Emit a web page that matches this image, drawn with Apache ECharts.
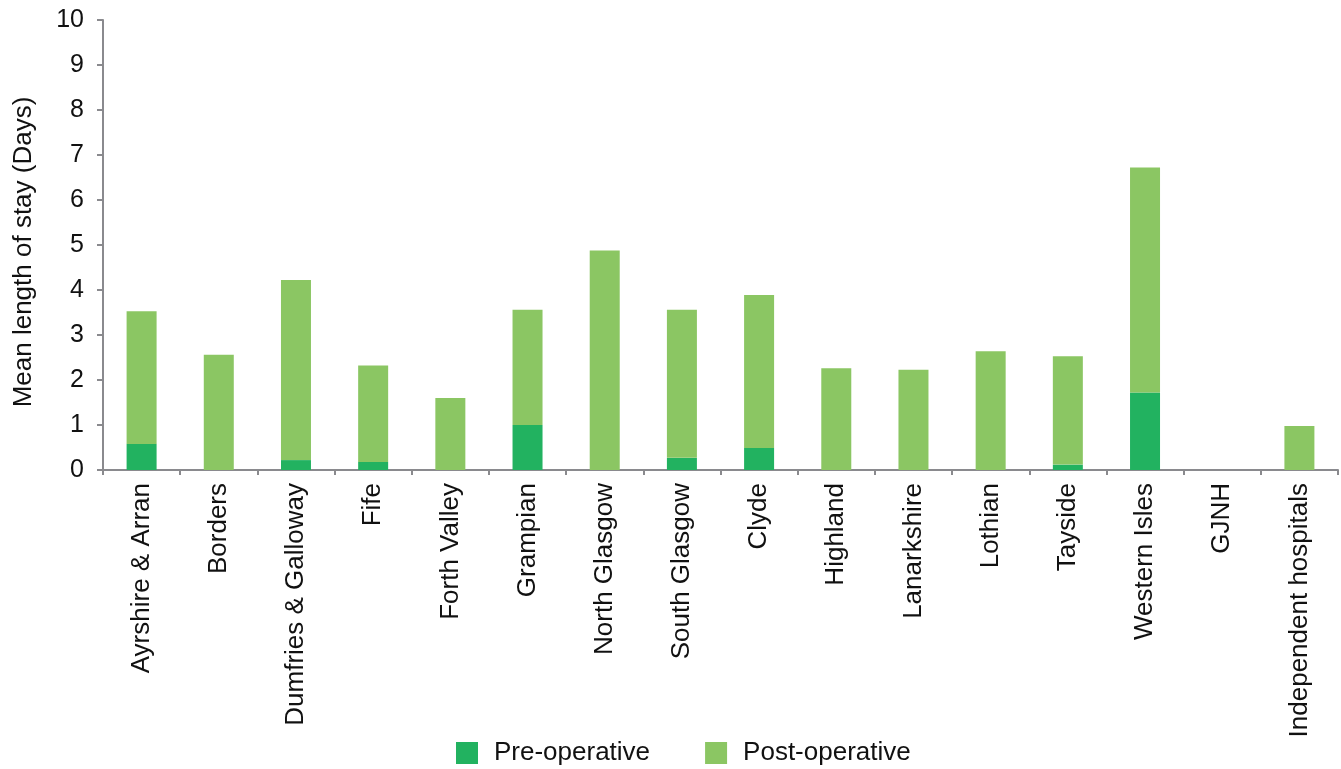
<!DOCTYPE html>
<html>
<head>
<meta charset="utf-8">
<script src="https://cdn.jsdelivr.net/npm/echarts@6/dist/echarts.min.js"></script>
<style>
  html, body { margin: 0; padding: 0; background: #fff; }
  #chart { width: 1341px; height: 769px; }
</style>
</head>
<body>
<div id="chart"></div>
<script>
// Health board categories along the x axis
const boards = [
  'Ayrshire & Arran', 'Borders', 'Dumfries & Galloway', 'Fife', 'Forth Valley',
  'Grampian', 'North Glasgow', 'South Glasgow', 'Clyde', 'Highland',
  'Lanarkshire', 'Lothian', 'Tayside', 'Western Isles', 'GJNH', 'Independent hospitals'
];

// Mean length of stay (days), split into the two stacked components
const preOperative  = [0.58, 0, 0.22, 0.18, 0, 1.0, 0, 0.27, 0.49, 0, 0, 0, 0.12, 1.72, 0, 0];
const postOperative = [2.95, 2.56, 4.0, 2.14, 1.60, 2.56, 4.88, 3.29, 3.40, 2.26, 2.23, 2.64, 2.41, 5.0, 0, 0.98];

const seriesNames = ['Pre-operative', 'Post-operative'];
const yTicks = { min: 0, max: 10, interval: 1 };

const font = '"Liberation Sans", Arial, Helvetica, sans-serif';
const axisGrey = '#8a8a8e';

const chart = echarts.init(document.getElementById('chart'), null, { renderer: 'canvas' });
chart.setOption({
  animation: false,
  textStyle: { fontFamily: font },
  grid: { left: 103, right: 3, top: 20, bottom: 299, containLabel: false },
  legend: {
    data: seriesNames,
    left: 451,
    top: 735,
    itemWidth: 22,
    itemHeight: 22,
    itemGap: 55,
    icon: 'rect',
    textStyle: { fontFamily: font, fontSize: 26, color: '#111', padding: [0, 0, 0, 11] }
  },
  xAxis: {
    type: 'category',
    data: boards,
    axisLine: { lineStyle: { color: axisGrey, width: 2 } },
    axisTick: { show: true, length: 5, alignWithLabel: false, lineStyle: { color: axisGrey, width: 2 } },
    axisLabel: {
      rotate: 90,
      interval: 0,
      margin: 13,
      fontSize: 26,
      color: '#111',
      fontFamily: font
    }
  },
  yAxis: {
    type: 'value',
    min: yTicks.min,
    max: yTicks.max,
    interval: yTicks.interval,
    name: 'Mean length of stay (Days)',
    nameLocation: 'middle',
    nameGap: 66,
    nameTextStyle: { fontSize: 26, color: '#111', fontFamily: font, padding: [0, 14, 0, 0] },
    axisLine: { show: true, lineStyle: { color: axisGrey, width: 2 } },
    axisTick: { show: true, length: 6, lineStyle: { color: axisGrey, width: 2 } },
    splitLine: { show: false },
    axisLabel: { fontSize: 25, color: '#111', margin: 19, fontFamily: font }
  },
  series: [
    {
      name: seriesNames[0],
      type: 'bar',
      stack: 'los',
      data: preOperative,
      barWidth: 30,
      itemStyle: { color: '#22b260' }
    },
    {
      name: seriesNames[1],
      type: 'bar',
      stack: 'los',
      data: postOperative,
      barWidth: 30,
      itemStyle: { color: '#8bc663' }
    }
  ]
});
</script>
</body>
</html>
